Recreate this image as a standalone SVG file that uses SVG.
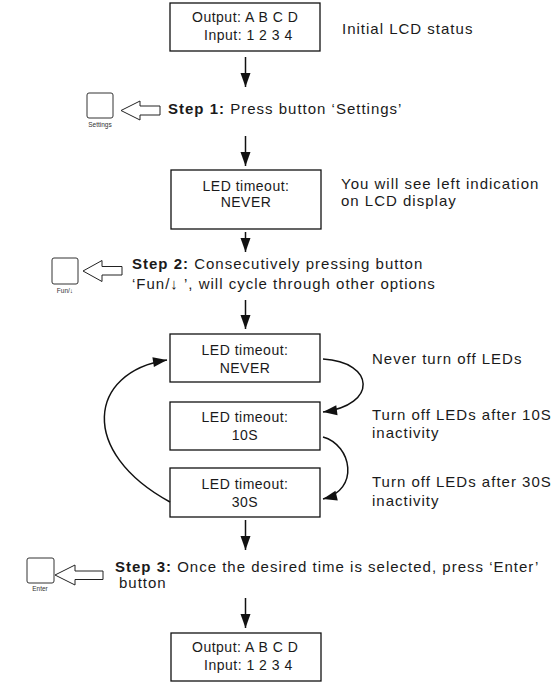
<svg xmlns="http://www.w3.org/2000/svg" width="558" height="697" viewBox="0 0 558 697">
<defs>
<marker id="ah" markerUnits="userSpaceOnUse" markerWidth="15" markerHeight="11" refX="14" refY="5" orient="auto" overflow="visible">
<path d="M0,0 L14,5 L0,10 z" fill="#111"/>
</marker>
<style>
.box{fill:#fff;stroke:#111;stroke-width:1.3}
.bt{font-family:"Liberation Sans",Arial,sans-serif;font-size:14px;letter-spacing:0.5px;fill:#1a1a1a}
.bc{text-anchor:middle}
.t{font-family:"Liberation Sans",Arial,sans-serif;font-size:15px;letter-spacing:1px;fill:#1a1a1a}
.b{font-weight:bold}
.ln{fill:none;stroke:#111;stroke-width:1.5}
.btn{fill:#fff;stroke:#333;stroke-width:1}
.lbl{font-family:"Liberation Sans",Arial,sans-serif;font-size:6.5px;fill:#333;text-anchor:middle}
.hol{fill:#fff;stroke:#222;stroke-width:1}
</style>
</defs>
<rect width="558" height="697" fill="#fff"/>

<g id="lcd-initial">
<rect class="box" x="170" y="3" width="150" height="48"/>
<text class="bt" x="192" y="22">Output: A B C D</text>
<text class="bt" x="204" y="40">Input: 1 2 3 4</text>
</g>
<g id="note-initial"><text class="t" x="342" y="34">Initial LCD status</text></g>

<g id="step1">
<rect class="btn" x="87" y="93" width="26" height="25" rx="2"/>
<text class="lbl" x="100" y="127">Settings</text>
<path class="hol" d="M121,110.5 L140,101 L140,106 L160,106 L160,115 L140,115 L140,120 z"/>
<text class="t" x="168" y="114"><tspan class="b">Step 1:</tspan> Press button ‘Settings’</text>
</g>

<g id="lcd-never">
<rect class="box" x="171" y="170" width="150" height="59"/>
<text class="bt bc" x="246" y="191">LED timeout:</text>
<text class="bt bc" x="246" y="207">NEVER</text>
</g>
<g id="note-see"><text class="t" x="341" y="189">You will see left indication</text><text class="t" x="341" y="206">on LCD display</text></g>

<g id="step2">
<rect class="btn" x="52" y="258" width="26" height="26" rx="2"/>
<text class="lbl" x="65" y="293">Fun/↓</text>
<path class="hol" d="M83,271 L102,260.5 L102,266.5 L122,266.5 L122,275 L102,275 L102,281.5 z"/>
<text class="t" x="132" y="269"><tspan class="b">Step 2:</tspan> Consecutively pressing button</text>
<text class="t" x="132" y="289">‘Fun/<tspan class="b">↓</tspan> ’, will cycle through other options</text>
</g>

<g id="opt-never">
<rect class="box" x="170" y="334" width="150" height="48"/>
<text class="bt bc" x="245" y="355">LED timeout:</text>
<text class="bt bc" x="245" y="373">NEVER</text>
</g>
<g id="opt-10s">
<rect class="box" x="170" y="402" width="150" height="48"/>
<text class="bt bc" x="245" y="422">LED timeout:</text>
<text class="bt bc" x="245" y="440">10S</text>
</g>
<g id="opt-30s">
<rect class="box" x="170" y="468" width="150" height="49"/>
<text class="bt bc" x="245" y="489">LED timeout:</text>
<text class="bt bc" x="245" y="507">30S</text>
</g>
<g id="notes-options">
<text class="t" x="372" y="364">Never turn off LEDs</text>
<text class="t" x="372" y="420">Turn off LEDs after 10S</text>
<text class="t" x="372" y="438">inactivity</text>
<text class="t" x="372" y="487">Turn off LEDs after 30S</text>
<text class="t" x="372" y="506">inactivity</text>
</g>

<g id="step3">
<rect class="btn" x="27" y="558" width="27" height="25" rx="2"/>
<text class="lbl" x="40" y="591">Enter</text>
<path class="hol" d="M55,575 L75,565 L75,571 L103,571 L103,579.5 L75,579.5 L75,585 z"/>
<text class="t" x="115" y="572"><tspan class="b">Step 3:</tspan> Once the desired time is selected, press ‘Enter’</text>
<text class="t" x="119" y="588">button</text>
</g>

<g id="lcd-final">
<rect class="box" x="171" y="633" width="150" height="48"/>
<text class="bt" x="192" y="652">Output: A B C D</text>
<text class="bt" x="204" y="670">Input: 1 2 3 4</text>
</g>

<g id="connectors">
<line class="ln" x1="245.5" y1="57" x2="245.5" y2="87" marker-end="url(#ah)"/>
<line class="ln" x1="245.5" y1="136" x2="245.5" y2="166" marker-end="url(#ah)"/>
<line class="ln" x1="245.5" y1="232" x2="245.5" y2="252" marker-end="url(#ah)"/>
<line class="ln" x1="245.5" y1="300" x2="245.5" y2="329" marker-end="url(#ah)"/>
<line class="ln" x1="245.5" y1="520" x2="245.5" y2="550" marker-end="url(#ah)"/>
<line class="ln" x1="245.5" y1="598" x2="245.5" y2="628" marker-end="url(#ah)"/>
<path class="ln" d="M323,359 C375,362 378,405 323,412" marker-end="url(#ah)"/>
<path class="ln" d="M323,437 C352,445 360,490 323,499" marker-end="url(#ah)"/>
<path class="ln" d="M170,502 C78,452 88,372 167,360" marker-end="url(#ah)"/>
</g>
</svg>
